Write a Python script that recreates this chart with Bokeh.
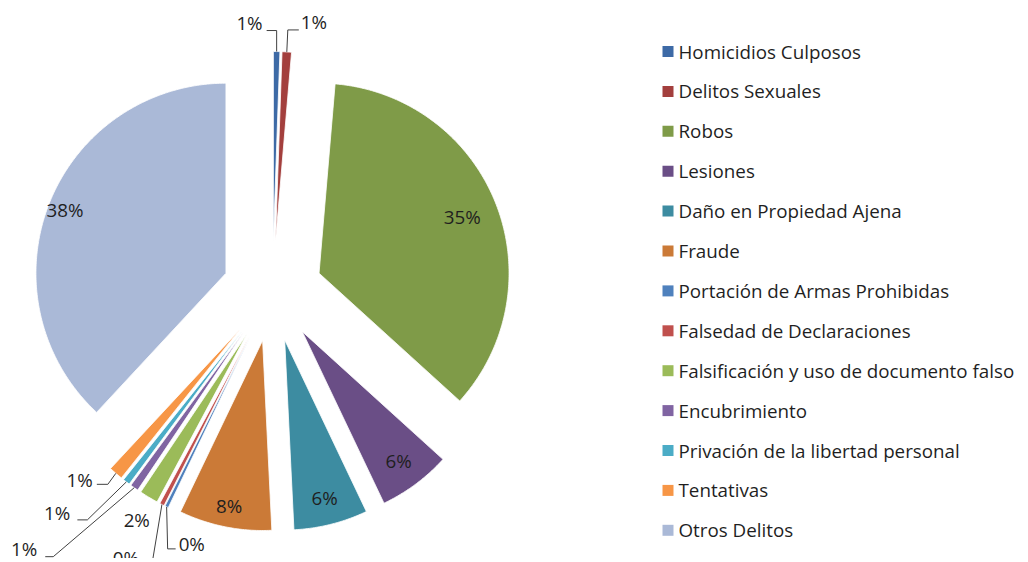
import numpy as np
from bokeh.plotting import figure
from bokeh.models import Range1d
from bokeh.embed import file_html
from bokeh.resources import INLINE
from bokeh.core.properties import value

categories = [
    "Homicidios Culposos",
    "Delitos Sexuales",
    "Robos",
    "Lesiones",
    "Daño en Propiedad Ajena",
    "Fraude",
    "Portación de Armas Prohibidas",
    "Falsedad de Declaraciones",
    "Falsificación y uso de documento falso",
    "Encubrimiento",
    "Privación de la libertad personal",
    "Tentativas",
    "Otros Delitos",
]
shares = [0.55, 0.8, 35.4, 6.2, 6.3, 7.9, 0.3, 0.4, 1.6, 0.7, 0.6, 1.2, 38.1]

colors = ["#3D6AA6", "#A33F3D", "#7F9B48", "#6A4E86", "#3D8CA1", "#CB7A37",
          "#4F81BD", "#C0504D", "#9BBB59", "#8064A2", "#4BACC6", "#F79646", "#AAB9D7"]

FONT = "Open Sans"
FS = "18.8px"
TXT = "#1f1f1f"
W, H = 1024, 558
p = figure(width=W, height=H, x_range=Range1d(0, W), y_range=Range1d(H, 0),
           output_backend="svg", toolbar_location=None,
           x_axis_type=None, y_axis_type=None, min_border=0)
p.outline_line_color = None
p.background_fill_color = "white"

cx, cy, R, EXP = 272.0, 291.0, 190.0, 50.0
vals = np.array(shares, dtype=float)
total = vals.sum()
ends = np.cumsum(vals) / total * 360.0
starts = np.concatenate([[0.0], ends[:-1]])
mids = (starts + ends) / 2.0

xs, ys, tips, outers = [], [], [], []
for a0, a1, m in zip(starts, ends, mids):
    mr = np.radians(m)
    tx, ty = cx + EXP * np.sin(mr), cy - EXP * np.cos(mr)
    n = max(4, int((a1 - a0) * 2))
    ang = np.radians(np.linspace(a0, a1, n))
    px = np.concatenate([[tx], tx + R * np.sin(ang)])
    py = np.concatenate([[ty], ty - R * np.cos(ang)])
    xs.append(list(px)); ys.append(list(py))
    tips.append((tx, ty))
    outers.append((tx + R * np.sin(mr), ty - R * np.cos(mr)))

p.patches(xs, ys, fill_color=colors, line_color="white", line_width=0.8)

labels = [f"{int(round(v / total * 100 + 1e-9))}%" for v in vals]

# inside labels: index -> fraction of radius
inside = {2: 0.81, 3: 0.85, 4: 0.86, 5: 0.89, 12: 0.91}
for i, f in inside.items():
    mr = np.radians(mids[i])
    tx, ty = tips[i]
    p.text(x=[tx + f * R * np.sin(mr)], y=[ty - f * R * np.cos(mr)], text=[labels[i]],
           text_font=value(FONT), text_font_size=FS, text_color=TXT,
           text_align="center", text_baseline="middle")

# outside labels: leader offsets relative to slice outer point, text offset, align
outside = {
    0: ([(0, -21), (-10, -21)], (-14, -29), "right"),
    1: ([(1, -22), (12, -22)], (14, -30), "left"),
    6: ([(1, 42), (9, 42)], (12, 37), "left"),
    7: ([(-10, 60)], (-23, 53), "right"),
    8: ([], (-12, 23), "center"),
    9: ([(-81, 69), (-89, 69)], (-97, 61), "right"),
    10: ([(-39, 38), (-49, 38)], (-56, 31), "right"),
    11: ([(-8, 11), (-19, 11)], (-23, 7), "right"),
}
for i, (pts, toff, al) in outside.items():
    ox, oy = outers[i]
    if pts:
        lx = [ox] + [ox + d[0] for d in pts]
        ly = [oy] + [oy + d[1] for d in pts]
        p.line(lx, ly, line_color="#404040", line_width=1)
    p.text(x=[ox + toff[0]], y=[oy + toff[1]], text=[labels[i]],
           text_font=value(FONT), text_font_size=FS, text_color=TXT,
           text_align=al, text_baseline="middle")

# legend
ly0, ldy = 51.0, 39.9
leg_y = [ly0 + k * ldy for k in range(len(categories))]
p.rect(x=[667.5] * len(categories), y=leg_y, width=11, height=11,
       fill_color=colors, line_color=None)
p.text(x=[678] * len(categories), y=leg_y, text=categories,
       text_font=value(FONT), text_font_size=FS, text_color=TXT,
       text_align="left", text_baseline="middle")

open("out.html", "w").write(file_html(p, INLINE))
